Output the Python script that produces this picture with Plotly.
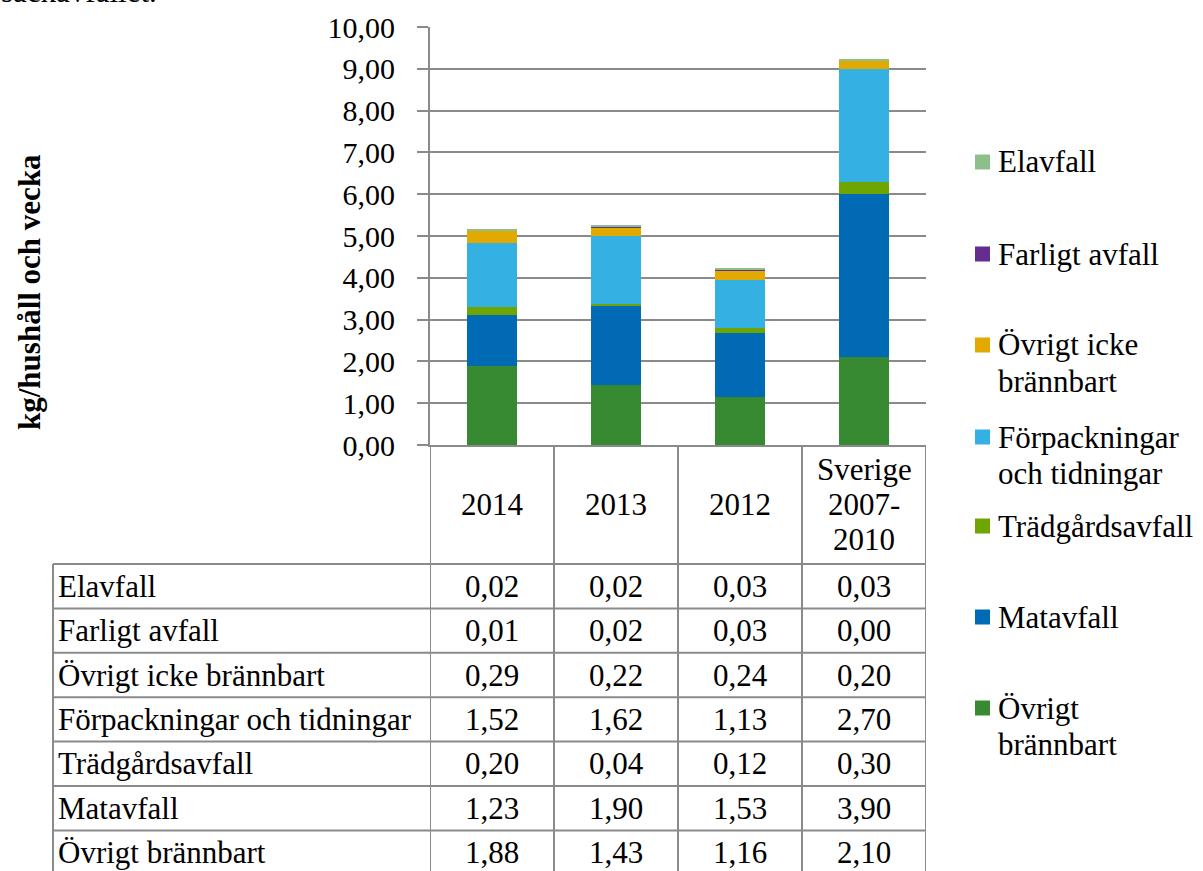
import plotly.graph_objects as go

# ---------------- data ----------------
categories = ["2014", "2013", "2012", "Sverige 2007-2010"]
category_label_lines = [["2014"], ["2013"], ["2012"], ["Sverige", "2007-", "2010"]]

# stacking order: bottom -> top
series_names = ["Övrigt brännbart", "Matavfall", "Trädgårdsavfall",
                "Förpackningar och tidningar", "Övrigt icke brännbart",
                "Farligt avfall", "Elavfall"]
ovrigt_brannbart = [1.88, 1.43, 1.16, 2.10]
matavfall = [1.23, 1.90, 1.53, 3.90]
tradgardsavfall = [0.20, 0.04, 0.12, 0.30]
forpackningar = [1.52, 1.62, 1.13, 2.70]
ovrigt_icke_brannbart = [0.29, 0.22, 0.24, 0.20]
farligt_avfall = [0.01, 0.02, 0.03, 0.00]
elavfall = [0.02, 0.02, 0.03, 0.03]
series_values = [ovrigt_brannbart, matavfall, tradgardsavfall, forpackningar,
                 ovrigt_icke_brannbart, farligt_avfall, elavfall]
legend_label_lines = [["Övrigt", "brännbart"], ["Matavfall"], ["Trädgårdsavfall"],
                      ["Förpackningar", "och tidningar"], ["Övrigt icke", "brännbart"],
                      ["Farligt avfall"], ["Elavfall"]]
y_ticks = [0, 1, 2, 3, 4, 5, 6, 7, 8, 9, 10]
y_title = "kg/hushåll och vecka"
top_text = "säckavfallet."

# ---------------- styles ----------------
colors = ["#388A32", "#006AB4", "#6FA500", "#35B0E2", "#E2A900", "#662D91", "#8DBF8B"]
W, H = 1203, 871
FONT = "Liberation Serif"
FS = 31
TICK_FS = 30
GRID = "#8a8a8a"


def px(x):
    return x / W


def py(y):
    return 1 - y / H


fig = go.Figure()
for name, vals, col in zip(series_names, series_values, colors):
    fig.add_trace(go.Bar(x=categories, y=vals, name=name, marker_color=col,
                         marker_line_width=0, width=0.4, showlegend=False))

fig.update_layout(
    width=W, height=H, margin=dict(l=0, r=0, t=0, b=0, autoexpand=False),
    barmode="stack", plot_bgcolor="white", paper_bgcolor="white",
    separators=", ", showlegend=False,
    font=dict(family=FONT, size=FS, color="black"),
    xaxis=dict(domain=[px(430), px(926)], range=[-0.5, 3.5], showticklabels=False,
               showgrid=False, showline=True, linecolor=GRID, linewidth=2,
               ticks="", zeroline=False, fixedrange=True, automargin=False),
    yaxis=dict(domain=[py(445), py(27)], range=[0, 10], tickvals=y_ticks,
               tickformat=".2f", showgrid=True, gridcolor=GRID, gridwidth=1.5,
               showline=True, linecolor=GRID, linewidth=2, ticks="outside",
               ticklen=11, tickcolor=GRID, tickwidth=1.5, ticklabelstandoff=16,
               zeroline=False, automargin=False, fixedrange=True,
               tickfont=dict(family=FONT, size=TICK_FS)),
)

shapes = []
annotations = []
LINE = dict(color=GRID, width=2)


def text(x, y, s, xref="paper", xanchor="center", size=FS, **kw):
    annotations.append(dict(x=x, xref=xref, y=py(y), yref="paper", text=s, showarrow=False,
                            xanchor=xanchor, yanchor="middle", borderpad=0,
                            font=dict(family=FONT, size=size), **kw))


# table geometry
header_top, header_bottom = 445, 564
row_h = 44.4
table_left = 53
n_rows = len(series_names)

# vertical column lines (category boundaries in data coordinates)
for b in [-0.5, 0.5, 1.5, 2.5, 3.5]:
    shapes.append(dict(type="line", xref="x", yref="paper", x0=b, x1=b,
                       y0=py(header_top), y1=py(H + 5), line=LINE))
shapes.append(dict(type="line", xref="paper", yref="paper", x0=px(table_left), x1=px(table_left),
                   y0=py(header_bottom), y1=py(H + 5), line=LINE))
for k in range(n_rows + 1):
    yy = header_bottom + row_h * k
    shapes.append(dict(type="line", xref="paper", yref="paper", x0=px(table_left), x1=px(926),
                       y0=py(yy), y1=py(yy), line=LINE))

# header labels (lines spaced 35 px, block centred in header cell)
hdr_c = (header_top + header_bottom) / 2
for i, lines in enumerate(category_label_lines):
    n = len(lines)
    for j, ln in enumerate(lines):
        text(i, hdr_c + (j - (n - 1) / 2) * 35, ln, xref="x")

# rows: top row = last series (Elavfall)
for r, idx in enumerate(reversed(range(n_rows))):
    yc = header_bottom + row_h * (r + 0.5)
    text(px(table_left + 4), yc, series_names[idx], xanchor="left")
    for i, v in enumerate(series_values[idx]):
        text(i, yc, f"{v:.2f}".replace(".", ","), xref="x")

# manual legend (top -> bottom = last series first)
legend_first_line = [162, 254, 345, 437, 526, 617, 708]
sq = 15
for r, idx in enumerate(reversed(range(n_rows))):
    yc = legend_first_line[r]
    shapes.append(dict(type="rect", xref="paper", yref="paper",
                       x0=px(975), x1=px(975 + sq), y0=py(yc - sq / 2), y1=py(yc + sq / 2),
                       fillcolor=colors[idx], line=dict(width=0)))
    for j, ln in enumerate(legend_label_lines[idx]):
        text(px(997), yc + j * 36, ln, xanchor="left")

# y axis title
text(px(30), 292, f"<b>{y_title}</b>", textangle=-90)
# text of the page above the chart, clipped by the top edge
annotations.append(dict(x=0, xref="paper", y=py(10), yref="paper", text=top_text,
                        showarrow=False, xanchor="left", yanchor="bottom", borderpad=0,
                        font=dict(family=FONT, size=FS)))

fig.update_layout(shapes=shapes, annotations=annotations)
fig.write_html("out.html", config={"displayModeBar": False},
               post_script="document.body.style.margin='0';document.body.style.overflow='hidden';")
